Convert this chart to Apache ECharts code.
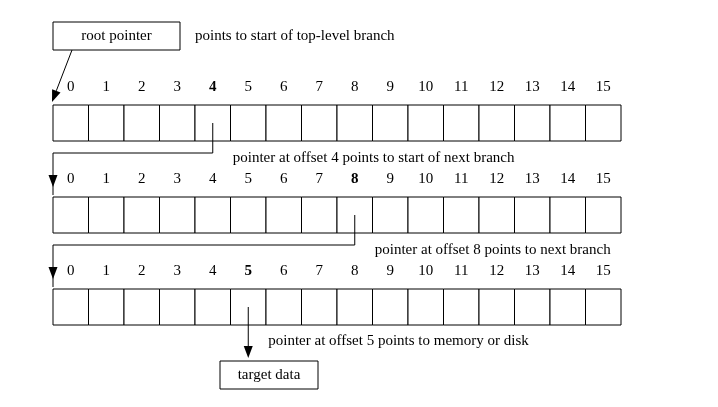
<!DOCTYPE html>
<html><head><meta charset="utf-8">
<script src="https://cdn.jsdelivr.net/npm/echarts@6/dist/echarts.min.js"></script>
<style>html,body{margin:0;padding:0;background:#fff}#c{width:718px;height:407px}</style>
</head><body><div id="c"></div>
<script>
// data
const indexLabels = ['0','1','2','3','4','5','6','7','8','9','10','11','12','13','14','15'];
const pointerOffsets = [4, 8, 5];          // offset followed in each level
const rows = [0, 1, 2];
const captions = [
  'pointer at offset 4 points to start of next branch',
  'pointer at offset 8 points to next branch',
  'pointer at offset 5 points to memory or disk'
];
const rootText = 'root pointer';
const rootNote = 'points to start of top-level branch';
const targetText = 'target data';

// layout (pixel space of the hidden axes)
const X0 = 53, CW = 35.5, TOP0 = 105, CH = 36, PITCH = 92;
const cx = c => X0 + c * CW;
const rowTop = r => TOP0 + r * PITCH;
const FONT = '15px "Liberation Serif", "DejaVu Serif", serif';
const BFONT = 'bold 15px "Liberation Serif", "DejaVu Serif", serif';

const chart = echarts.init(document.getElementById('c'));

function arrowDown(api, x, y) {
  const p = api.coord([x, y]);
  return { type: 'polygon', shape: { points: [[p[0] - 4.5, p[1] - 12], [p[0] + 4.5, p[1] - 12], p] }, style: { fill: '#000' } };
}

const cellData = [];
rows.forEach(r => indexLabels.forEach((l, c) => cellData.push([c, r])));

chart.setOption({
  animation: false,
  grid: { left: 0, right: 0, top: 0, bottom: 0 },
  xAxis: { type: 'value', min: 0, max: 718, show: false },
  yAxis: { type: 'value', min: 0, max: 407, inverse: true, show: false },
  series: [
    {
      type: 'custom', data: cellData,
      renderItem: (p, api) => {
        const c = api.value(0), r = api.value(1);
        const a = api.coord([cx(c), rowTop(r)]), b = api.coord([cx(c + 1), rowTop(r) + CH]);
        const bold = c === pointerOffsets[r];
        return { type: 'group', children: [
          { type: 'rect', shape: { x: a[0], y: a[1], width: b[0] - a[0], height: b[1] - a[1] }, style: { fill: '#fff', stroke: '#000', lineWidth: 1 } },
          { type: 'text', style: { x: (a[0] + b[0]) / 2, y: a[1] - 18, text: indexLabels[c], font: bold ? BFONT : FONT, fill: '#000', align: 'center', verticalAlign: 'middle' } }
        ] };
      }
    },
    {
      type: 'custom', data: rows.map(r => [r, 0]),
      renderItem: (p, api) => {
        const r = api.value(0);
        const c = pointerOffsets[r] + 0.5;
        const y0 = rowTop(r) + CH / 2;
        const children = [];
        if (r < 2) {
          const yb = rowTop(r) + CH + 12;
          const pts = [[cx(c), y0], [cx(c), yb], [X0, yb], [X0, rowTop(r + 1) - 2]].map(q => api.coord(q));
          children.push({ type: 'polyline', shape: { points: pts }, style: { stroke: '#000', lineWidth: 1, fill: null } });
          children.push(arrowDown(api, X0, rowTop(r + 1) - 10));
        } else {
          const pts = [[cx(c), y0], [cx(c), 352]].map(q => api.coord(q));
          children.push({ type: 'polyline', shape: { points: pts }, style: { stroke: '#000', lineWidth: 1, fill: null } });
          children.push(arrowDown(api, cx(c), 358));
        }
        const tp = api.coord([cx(c) + 20, r === 2 ? 341 : rowTop(r) + CH + 17]);
        children.push({ type: 'text', style: { x: tp[0], y: tp[1], text: captions[r], font: FONT, fill: '#000', align: 'left', verticalAlign: 'middle' } });
        return { type: 'group', children };
      }
    },
    {
      type: 'custom', data: [[0, 0]],
      renderItem: (p, api) => {
        const a = api.coord([53, 22]), b = api.coord([180, 50]);
        const t1 = api.coord([220, 361]), t2 = api.coord([318, 389]);
        const l1 = api.coord([72, 50]), l2 = api.coord([52, 102]);
        const ang = Math.atan2(l2[1] - l1[1], l2[0] - l1[0]);
        const hb = [l2[0] - 12 * Math.cos(ang), l2[1] - 12 * Math.sin(ang)];
        const nx = -Math.sin(ang) * 4.5, ny = Math.cos(ang) * 4.5;
        return { type: 'group', children: [
          { type: 'rect', shape: { x: a[0], y: a[1], width: b[0] - a[0], height: b[1] - a[1] }, style: { fill: '#fff', stroke: '#000' } },
          { type: 'text', style: { x: (a[0] + b[0]) / 2, y: (a[1] + b[1]) / 2, text: rootText, font: FONT, fill: '#000', align: 'center', verticalAlign: 'middle' } },
          { type: 'text', style: { x: 195, y: 36, text: rootNote, font: FONT, fill: '#000', align: 'left', verticalAlign: 'middle' } },
          { type: 'line', shape: { x1: l1[0], y1: l1[1], x2: hb[0], y2: hb[1] }, style: { stroke: '#000' } },
          { type: 'polygon', shape: { points: [[hb[0] + nx, hb[1] + ny], [hb[0] - nx, hb[1] - ny], l2] }, style: { fill: '#000' } },
          { type: 'rect', shape: { x: t1[0], y: t1[1], width: t2[0] - t1[0], height: t2[1] - t1[1] }, style: { fill: '#fff', stroke: '#000' } },
          { type: 'text', style: { x: (t1[0] + t2[0]) / 2, y: (t1[1] + t2[1]) / 2, text: targetText, font: FONT, fill: '#000', align: 'center', verticalAlign: 'middle' } }
        ] };
      }
    }
  ]
});
</script></body></html>
